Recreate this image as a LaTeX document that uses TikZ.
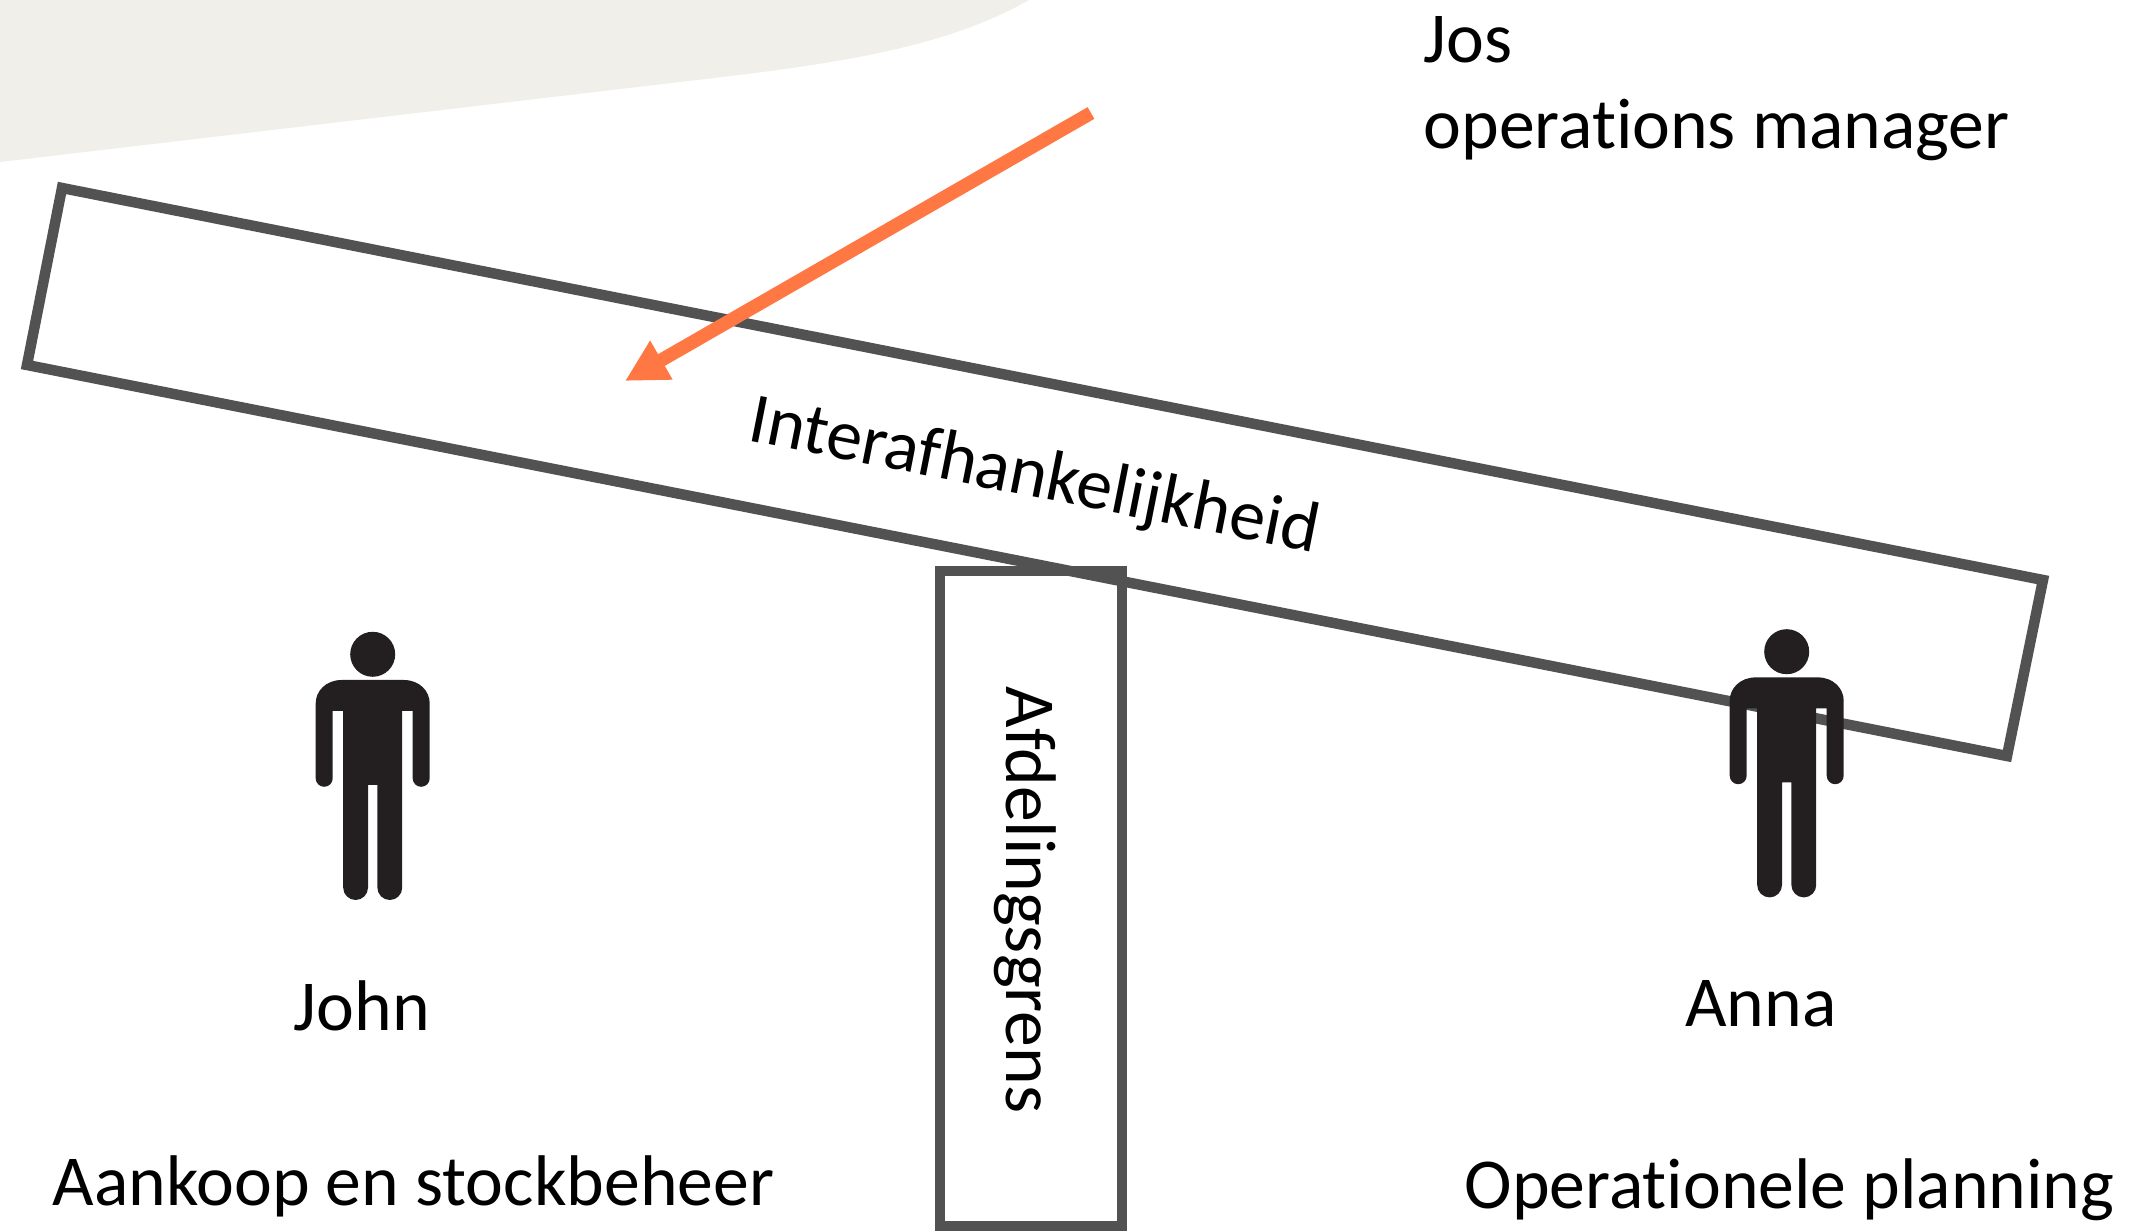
\documentclass[tikz,border=0pt]{standalone}
\usepackage{fontspec}
\setmainfont{Carlito}[Ligatures=NoCommon]
\usetikzlibrary{arrows.meta}
\definecolor{blobgrey}{HTML}{F0EFEA}
\definecolor{framegrey}{HTML}{525252}
\definecolor{arroworange}{HTML}{FF7843}
\definecolor{personblack}{HTML}{231F20}
\tikzset{
	lbl/.style={inner sep=0pt, font=\fontsize{20.4}{24}\selectfont},
	frame/.style={line width=0.105cm, color=framegrey, line join=miter},
	pointer/.style={line width=0.135cm, color=arroworange, -{Triangle[length=0.42cm,width=0.42cm]}}
}
\def\person(#1,#2){
	\fill[personblack] (#1,#2) circle (0.225);
	\begin{scope}[shift={(#1,#2)}]
		\fill[personblack] (-0.31,-0.257) -- (0.31,-0.257) .. controls (0.47,-0.257) and (0.57,-0.37) .. (0.57,-0.49)
			-- (0.57,-1.24) arc (0:-180:0.085) -- (0.40,-0.567) -- (0.295,-0.567)
			-- (0.295,-2.333) arc (0:-180:0.124) -- (0.047,-1.307) -- (-0.047,-1.307)
			-- (-0.047,-2.333) arc (0:-180:0.124) -- (-0.295,-0.567) -- (-0.40,-0.567)
			-- (-0.40,-1.24) arc (0:-180:0.085) -- (-0.57,-0.49)
			.. controls (-0.57,-0.37) and (-0.47,-0.257) .. (-0.31,-0.257) -- cycle;
	\end{scope}
}

\begin{document}
\begin{tikzpicture}
	\useasboundingbox (0, 0) rectangle (21.29, 12.32);

	\fill[blobgrey] (0, 12.32) -- (10.29, 12.32) .. controls (9.5, 11.87) and (8.5, 11.70) .. (7.14, 11.54) -- (0, 10.70) -- cycle;

	\draw[frame] (9.40, 0.06) rectangle (11.22, 6.61);
	\draw[frame] (0.62, 10.44) -- (20.43, 6.52) -- (20.07, 4.76) -- (0.27, 8.67) -- cycle;

	\coordinate (jostail) at (10.91, 11.19);
	\coordinate (jostip) at (6.25, 8.51);
	\draw[pointer] (jostail) -- (jostip);

	\person(3.727,5.777)
	\person(17.867,5.803)

	\node[lbl, anchor=base west] (jos) at (14.23, 11.69) {Jos};
	\node[lbl, anchor=base west] (manager) at (14.23, 10.83) {operations manager};
	\node[lbl, rotate=-11.2] (inter) at (10.34, 7.54) {Interafhankelijkheid};
	\node[lbl, rotate=270, anchor=base] (grens) at (10.06, 3.32) {Afdelingsgrens};
	\node[lbl, anchor=base] (john) at (3.62, 2.01) {John};
	\node[lbl, anchor=base] (anna) at (17.61, 2.05) {Anna};
	\node[lbl, anchor=base west] (aankoop) at (0.52, 0.26) {Aankoop en stockbeheer};
	\node[lbl, anchor=base west] (planning) at (14.64, 0.23) {Operationele planning};
\end{tikzpicture}
\end{document}
